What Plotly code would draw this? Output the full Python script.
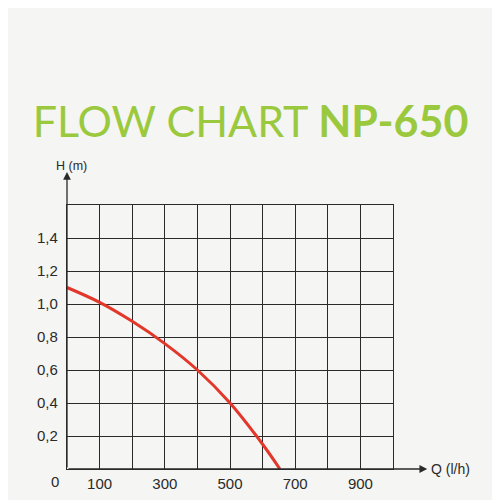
import plotly.graph_objects as go

# pump curve NP-650
flow = [0, 100, 200, 300, 400, 500, 600, 653]          # Q (l/h)
head = [1.10, 1.01, 0.895, 0.76, 0.60, 0.40, 0.15, 0.0]  # H (m)

x_grid = [0, 100, 200, 300, 400, 500, 600, 700, 800, 900, 1000]
x_text = ['', '100', '', '300', '', '500', '', '700', '', '900', '']
y_grid = [0, 0.2, 0.4, 0.6, 0.8, 1.0, 1.2, 1.4, 1.6]
y_text = ['', '0,2', '0,4', '0,6', '0,8', '1,0', '1,2', '1,4', '']

bg = '#f5f5f3'
ink = '#2a2a2a'
tick_font = dict(family='Liberation Sans, Arial', size=15, color=ink)

fig = go.Figure()
fig.add_trace(go.Scatter(x=flow, y=head,
                         mode='lines',
                         line=dict(color='#e2372a', width=3, shape='spline'),
                         hoverinfo='x+y'))

axis = dict(showgrid=True, gridcolor=ink, gridwidth=1,
            zeroline=False, showline=True, linecolor=ink, linewidth=1.3,
            mirror=True, ticks='', automargin=False, tickfont=tick_font)

# page has an 8px body margin, so the margins below are shifted to match
fig.update_layout(
    width=500, height=500,
    paper_bgcolor=bg, plot_bgcolor=bg,
    showlegend=False,
    margin=dict(l=59, r=115, t=197, b=39),
    title=dict(text='FLOW CHART <b>NP-650</b>',
               x=0.485, xanchor='center', y=0.772, yanchor='middle',
               font=dict(family='Lato, Open Sans', size=43, color='#9bc93e')),
    xaxis=dict(axis, range=[0, 1000], tickvals=x_grid, ticktext=x_text,
               ticklabelstandoff=1),
    yaxis=dict(axis, range=[0, 1.6], tickvals=y_grid, ticktext=y_text,
               ticklabelstandoff=5),
)

# axis arrows
fig.add_annotation(x=1105, y=0, ax=0, ay=0, xref='x', yref='y',
                   axref='x', ayref='y', text='', showarrow=True,
                   arrowhead=2, arrowsize=1.2, arrowwidth=1.3, arrowcolor=ink)
fig.add_annotation(x=0, y=1.8, ax=0, ay=0, xref='x', yref='y',
                   axref='x', ayref='y', text='', showarrow=True,
                   arrowhead=2, arrowsize=1.2, arrowwidth=1.3, arrowcolor=ink)

# axis labels (paper coords so they are not hidden outside the range)
fig.add_annotation(x=1.11, y=0, xref='paper', yref='paper', text='Q (l/h)',
                   showarrow=False, xanchor='left', yanchor='middle',
                   font=dict(family='Liberation Sans, Arial', size=14, color=ink))
fig.add_annotation(x=0, y=1.1, xref='paper', yref='paper', text='H (m)',
                   showarrow=False, xanchor='center', yanchor='bottom',
                   xshift=4, yshift=4,
                   font=dict(family='Liberation Sans, Arial', size=12.5, color=ink))
fig.add_annotation(x=0, y=0, xref='paper', yref='paper', text='0',
                   showarrow=False, xanchor='right', yanchor='top',
                   xshift=-6, yshift=-2, font=tick_font)

fig.write_html("out.html")
